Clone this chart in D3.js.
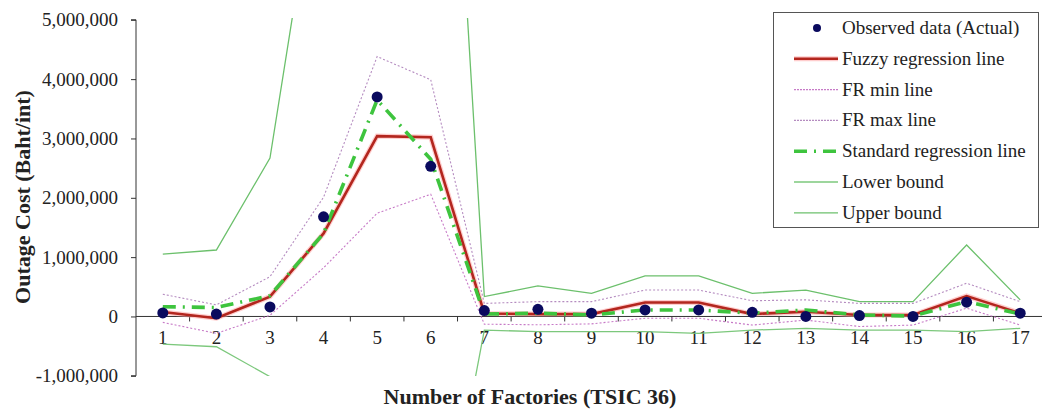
<!DOCTYPE html>
<html>
<head>
<meta charset="utf-8">
<script src="https://cdn.jsdelivr.net/npm/d3@7"></script>
<style>
  body { margin: 0; background: #fff; }
  svg text { font-family: "Liberation Serif", "Times New Roman", serif; fill: #222; }
</style>
</head>
<body>
<div id="chart"></div>
<script>
// factories 1..17 (TSIC 36)
var factories = [1, 2, 3, 4, 5, 6, 7, 8, 9, 10, 11, 12, 13, 14, 15, 16, 17];

var observed = [60000, 40000, 160000, 1680000, 3700000, 2530000, 100000, 120000, 55000, 110000, 110000, 70000, 0, 15000, 0, 240000, 55000];
var fuzzyLine = [75000, -30000, 335000, 1400000, 3040000, 3020000, 50000, 40000, 40000, 235000, 235000, 40000, 80000, 25000, 25000, 345000, 55000];
var frMin = [-100000, -285000, 20000, 820000, 1740000, 2060000, -130000, -140000, -125000, -30000, -30000, -145000, -60000, -170000, -145000, 140000, -145000];
var frMax = [375000, 195000, 670000, 2010000, 4380000, 3990000, 220000, 250000, 250000, 445000, 445000, 265000, 280000, 220000, 220000, 560000, 250000];
var standardLine = [165000, 150000, 350000, 1400000, 3650000, 2650000, 40000, 55000, 25000, 110000, 110000, 55000, 110000, 25000, 8000, 250000, 40000];
var lowerBound = [-465000, -510000, -1015000, -3500000, -6000000, -5000000, -230000, -255000, -255000, -255000, -285000, -230000, -200000, -230000, -230000, -255000, -200000];
var upperBound = [1050000, 1120000, 2670000, 8350000, 12000000, 15300000, 335000, 515000, 390000, 685000, 685000, 390000, 445000, 250000, 250000, 1205000, 280000];

var yTicks = [-1000000, 0, 1000000, 2000000, 3000000, 4000000, 5000000];

var w = 1042, h = 412;

var svg = d3.select("#chart").append("svg")
    .attr("width", w)
    .attr("height", h);

var xScale = d3.scaleBand()
    .domain(factories)
    .range([136, 1047]);

var yScale = d3.scaleLinear()
    .domain([-1000000, 5000000])
    .range([375.8, 19.8]);

function cx(i) { return xScale(factories[i]) + xScale.bandwidth() / 2; }

// clip so bound lines stop at the plot area
svg.append("clipPath").attr("id", "plotclip")
    .append("rect")
    .attr("x", 136).attr("y", 18)
    .attr("width", 1047 - 136).attr("height", 376 - 18);

// y axis, plain hyphen for negatives like the original
var fmt = d3.format(",");
var y_axis = d3.axisLeft(yScale)
    .tickValues(yTicks)
    .tickSize(5)
    .tickFormat(function(d) { return fmt(d).replace("\u2212", "-"); });

var gy = svg.append("g")
    .attr("transform", "translate(136,0)")
    .call(y_axis);
gy.select(".domain").attr("stroke", "#333").attr("d", "M-5," + yScale(-1000000) + "H0V" + yScale(5000000) + "H-5");
gy.selectAll(".tick line").attr("stroke", "#333");
gy.selectAll(".tick text")
    .attr("x", -18)
    .attr("font-size", "19px")
    .attr("fill", "#333");

// x axis sits on zero, ticks between categories
var x_axis = d3.axisBottom(xScale).tickSize(0).tickPadding(14);
var gx = svg.append("g")
    .attr("transform", "translate(0," + yScale(0) + ")")
    .call(x_axis);
gx.select(".domain").attr("stroke", "#333").attr("d", "M136,0H1047");
gx.selectAll(".tick text").attr("font-size", "19px").attr("fill", "#333");
gx.selectAll(".sep")
    .data(factories.slice(1))
    .enter().append("line")
    .attr("x1", function(d) { return xScale(d); })
    .attr("x2", function(d) { return xScale(d); })
    .attr("y1", 0).attr("y2", 5)
    .attr("stroke", "#333");

// axis titles
svg.append("text")
    .attr("x", 530).attr("y", 404)
    .attr("text-anchor", "middle")
    .attr("font-size", "22px")
    .attr("font-weight", "bold")
    .attr("fill", "#222")
    .text("Number of Factories (TSIC 36)");

svg.append("text")
    .attr("transform", "translate(30,197) rotate(-90)")
    .attr("text-anchor", "middle")
    .attr("font-size", "22px")
    .attr("font-weight", "bold")
    .attr("fill", "#222")
    .text("Outage Cost (Baht/int)");

var line = d3.line()
    .x(function(d, i) { return cx(i); })
    .y(function(d) { return yScale(d); });

var plot = svg.append("g").attr("clip-path", "url(#plotclip)");

var series = [
    { name: "Lower bound", data: lowerBound, color: "#7cc87c", width: 1.3, dash: null },
    { name: "Upper bound", data: upperBound, color: "#6cc06c", width: 1.3, dash: null },
    { name: "FR min line", data: frMin, color: "#c77ac7", width: 1.1, dash: "2,2" },
    { name: "FR max line", data: frMax, color: "#b58cc0", width: 1.1, dash: "2,2" },
    { name: "Fuzzy regression line", data: fuzzyLine, color: "#ff9c9c", width: 5, dash: null, glow: true },
    { name: "Fuzzy regression line", data: fuzzyLine, color: "#b3261e", width: 2.6, dash: null },
    { name: "Standard regression line", data: standardLine, color: "#3ec43e", width: 3.6, dash: "13,7,2,7" }
];

series.forEach(function(s) {
    plot.append("path")
        .datum(s.data)
        .attr("d", line)
        .attr("fill", "none")
        .attr("stroke", s.color)
        .attr("stroke-width", s.width)
        .attr("stroke-dasharray", s.dash)
        .attr("stroke-linejoin", "miter")
        .attr("opacity", s.glow ? 0.5 : 1);
});

plot.selectAll(".obs")
    .data(observed)
    .enter().append("circle")
    .attr("cx", function(d, i) { return cx(i); })
    .attr("cy", function(d) { return yScale(d); })
    .attr("r", 5.5)
    .attr("fill", "#0a0a5e");

// legend
var legend = svg.append("g");
legend.append("rect")
    .attr("x", 773.5).attr("y", 12.5)
    .attr("width", 265).attr("height", 215)
    .attr("fill", "#fff")
    .attr("stroke", "#555");

var legendItems = [
    { label: "Observed data (Actual)", type: "dot" },
    { label: "Fuzzy regression line", color: "#b3261e", width: 2.6, dash: null, glow: true },
    { label: "FR min line", color: "#c77ac7", width: 1.1, dash: "2,1" },
    { label: "FR max line", color: "#b58cc0", width: 1.1, dash: "2,1" },
    { label: "Standard regression line", color: "#3ec43e", width: 3.6, dash: "13,7,2,7" },
    { label: "Lower bound", color: "#7cc87c", width: 1.3, dash: null },
    { label: "Upper bound", color: "#6cc06c", width: 1.3, dash: null }
];

legendItems.forEach(function(item, i) {
    var y = 28 + i * 30.8;
    if (item.type === "dot") {
        legend.append("circle").attr("cx", 817).attr("cy", y).attr("r", 4).attr("fill", "#0a0a5e");
    } else {
        if (item.glow) {
            legend.append("line").attr("x1", 794).attr("x2", 838).attr("y1", y).attr("y2", y)
                .attr("stroke", "#ff9c9c").attr("stroke-width", 5).attr("opacity", 0.5);
        }
        legend.append("line").attr("x1", 794).attr("x2", 838).attr("y1", y).attr("y2", y)
            .attr("stroke", item.color)
            .attr("stroke-width", item.width)
            .attr("stroke-dasharray", item.dash);
    }
    legend.append("text")
        .attr("x", 842).attr("y", y + 6)
        .attr("font-size", "19px")
        .attr("fill", "#222")
        .text(item.label);
});
</script>
</body>
</html>
